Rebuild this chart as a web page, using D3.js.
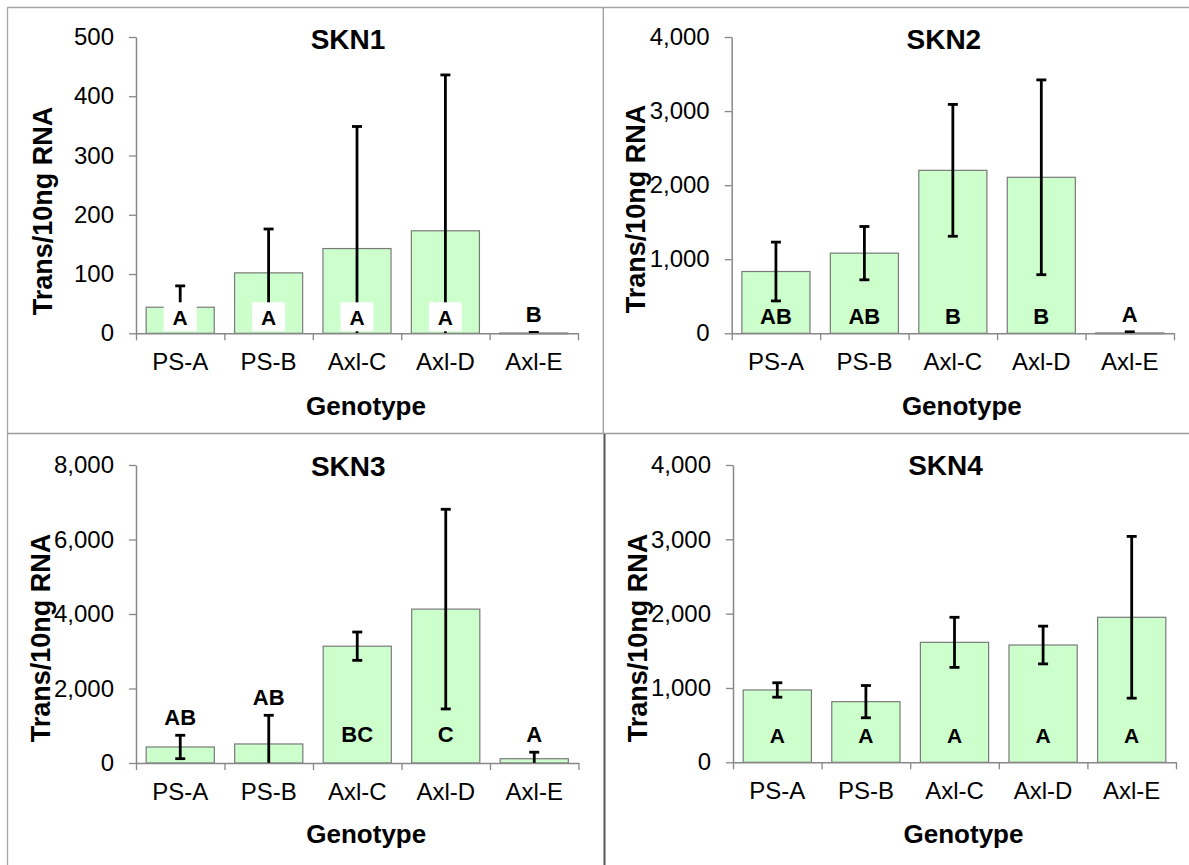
<!DOCTYPE html>
<html>
<head>
<meta charset="utf-8">
<script src="https://cdn.jsdelivr.net/npm/d3@7"></script>
<style>
  html, body { margin: 0; padding: 0; background: #fff; }
  svg text { font-family: "Liberation Sans", Arial, sans-serif; fill: #000; }
</style>
</head>
<body>
<svg id="chart" width="1189" height="865"></svg>
<script>
// genotypes on the x axis, shared by the four panels
const genotypes = ['PS-A', 'PS-B', 'Axl-C', 'Axl-D', 'Axl-E'];

// SKN1
const skn1Means = [44, 102, 143, 173, 0.5];
const skn1Errors = [36, 74, 206, 263, 1];
const skn1Letters = ['A', 'A', 'A', 'A', 'B'];
const skn1Ticks = [0, 100, 200, 300, 400, 500];

// SKN2
const skn2Means = [834, 1082, 2200, 2106, 5];
const skn2Errors = [397, 360, 890, 1315, 15];
const skn2Letters = ['AB', 'AB', 'B', 'B', 'A'];
const skn2Ticks = [0, 1000, 2000, 3000, 4000];

// SKN3
const skn3Means = [430, 511, 3136, 4131, 115];
const skn3Errors = [314, 770, 380, 2680, 175];
const skn3Letters = ['AB', 'AB', 'BC', 'C', 'A'];
const skn3Ticks = [0, 2000, 4000, 6000, 8000];

// SKN4
const skn4Means = [973, 816, 1614, 1578, 1951];
const skn4Errors = [97, 217, 337, 254, 1088];
const skn4Letters = ['A', 'A', 'A', 'A', 'A'];
const skn4Ticks = [0, 1000, 2000, 3000, 4000];

const titles = ['SKN1', 'SKN2', 'SKN3', 'SKN4'];
const yLabel = 'Trans/10ng RNA';
const xLabel = 'Genotype';

const svg = d3.select('#chart');

// panel frames
const frame = svg.append('g').attr('fill', 'none');
frame.append('line').attr('x1', 7).attr('y1', 7.5).attr('x2', 1189).attr('y2', 7.5)
    .attr('stroke', '#a6a6a6').attr('stroke-width', 1.3);
frame.append('line').attr('x1', 7.5).attr('y1', 7).attr('x2', 7.5).attr('y2', 865)
    .attr('stroke', '#a6a6a6').attr('stroke-width', 1.3);
frame.append('line').attr('x1', 7).attr('y1', 433.5).attr('x2', 1189).attr('y2', 433.5)
    .attr('stroke', '#9a9a9a').attr('stroke-width', 1.5);
frame.append('line').attr('x1', 603.3).attr('y1', 7).attr('x2', 603.3).attr('y2', 434)
    .attr('stroke', '#9a9a9a').attr('stroke-width', 1.3);
frame.append('line').attr('x1', 604.5).attr('y1', 434).attr('x2', 604.5).attr('y2', 865)
    .attr('stroke', '#555').attr('stroke-width', 2);

const panels = [
    { means: skn1Means, errors: skn1Errors, letters: skn1Letters, ticks: skn1Ticks,
      x0: 136, x1: 578, yTop: 37, yZero: 333.3, titleY: 49, tickY: 370, genoY: 415,
      labelX: 52, labelY: 211, inset: 8, boxed: true, letterFont: 'arial' },
    { means: skn2Means, errors: skn2Errors, letters: skn2Letters, ticks: skn2Ticks,
      x0: 731.7, x1: 1174, yTop: 37, yZero: 333.3, titleY: 49, tickY: 370, genoY: 415,
      labelX: 645, labelY: 209, inset: 9, boxed: false, letterFont: 'lato' },
    { means: skn3Means, errors: skn3Errors, letters: skn3Letters, ticks: skn3Ticks,
      x0: 136, x1: 578.5, yTop: 465, yZero: 763, titleY: 476, tickY: 800, genoY: 843,
      labelX: 50, labelY: 638, inset: 21, boxed: false, letterFont: 'lato' },
    { means: skn4Means, errors: skn4Errors, letters: skn4Letters, ticks: skn4Ticks,
      x0: 733, x1: 1176, yTop: 465, yZero: 762.3, titleY: 475, tickY: 799, genoY: 843,
      labelX: 647, labelY: 638, inset: 19, boxed: false, letterFont: 'arial' }
];

const axisColor = '#878787';

panels.forEach(function(p, i) {
    const g = svg.append('g');

    const x = d3.scaleBand()
        .domain(genotypes)
        .range([p.x0, p.x1])
        .paddingInner(0.23)
        .paddingOuter(0.115);

    const xEdge = d3.scaleLinear()
        .domain([0, genotypes.length])
        .range([p.x0, p.x1]);

    const y = d3.scaleLinear()
        .domain([0, d3.max(p.ticks)])
        .range([p.yZero, p.yTop]);

    // bars
    g.selectAll('rect.bar')
        .data(p.means)
        .enter()
        .append('rect')
            .attr('class', 'bar')
            .attr('x', (d, j) => x(genotypes[j]))
            .attr('width', x.bandwidth())
            .attr('y', d => y(d))
            .attr('height', d => Math.max(0.8, y(0) - y(d)))
            .attr('fill', '#ccffcc')
            .attr('stroke', '#7a7a7a')
            .attr('stroke-width', 1.2);

    // error bars
    const cap = 5;
    p.means.forEach(function(m, j) {
        const cx = x(genotypes[j]) + x.bandwidth() / 2;
        const hi = m + p.errors[j];
        const lo = Math.max(0, m - p.errors[j]);
        const eb = g.append('g').attr('stroke', '#000').attr('stroke-width', 2.8);
        eb.append('line').attr('x1', cx).attr('x2', cx).attr('y1', y(hi)).attr('y2', y(lo));
        eb.append('line').attr('x1', cx - cap).attr('x2', cx + cap).attr('y1', y(hi)).attr('y2', y(hi));
        if (m - p.errors[j] > 0) {
            eb.append('line').attr('x1', cx - cap).attr('x2', cx + cap).attr('y1', y(lo)).attr('y2', y(lo));
        }
    });

    // y axis
    const yAxis = g.append('g')
        .attr('transform', 'translate(' + p.x0 + ',0)')
        .call(d3.axisLeft(y)
            .tickValues(p.ticks)
            .tickSizeInner(7)
            .tickSizeOuter(0)
            .tickPadding(15)
            .tickFormat(d3.format(',')));
    yAxis.select('.domain').attr('stroke', axisColor).attr('stroke-width', 1.5);
    yAxis.selectAll('.tick line').attr('stroke', axisColor).attr('stroke-width', 1.3);
    yAxis.selectAll('.tick text')
        .attr('font-size', 24)
        .attr('font-family', '"Liberation Sans", Arial, sans-serif')
        .attr('fill', '#000');

    // x axis line with ticks at category boundaries
    const xAxis = g.append('g')
        .attr('transform', 'translate(0,' + p.yZero + ')')
        .call(d3.axisBottom(xEdge)
            .tickValues(d3.range(genotypes.length + 1))
            .tickSizeInner(7)
            .tickSizeOuter(0)
            .tickFormat(''));
    xAxis.select('.domain').attr('stroke', axisColor).attr('stroke-width', 1.5);
    xAxis.selectAll('.tick line').attr('stroke', axisColor).attr('stroke-width', 1.3);

    // category labels
    g.selectAll('text.cat')
        .data(genotypes)
        .enter()
        .append('text')
            .attr('class', 'cat')
            .attr('x', d => x(d) + x.bandwidth() / 2)
            .attr('y', p.tickY)
            .attr('text-anchor', 'middle')
            .attr('font-size', 24)
            .text(d => d);

    // significance letters
    p.letters.forEach(function(letter, j) {
        const cx = x(genotypes[j]) + x.bandwidth() / 2;
        const barPx = y(0) - y(p.means[j]);
        const inside = barPx >= 24;
        const by = inside ? p.yZero - p.inset : y(p.means[j] + p.errors[j]) - 10;
        if (inside && p.boxed) {
            g.append('rect')
                .attr('x', cx - 16.5).attr('y', by - 23)
                .attr('width', 33).attr('height', 29)
                .attr('fill', '#fff');
        }
        const t = g.append('text')
            .attr('x', cx)
            .attr('y', by)
            .attr('text-anchor', 'middle')
            .attr('font-weight', 'bold')
            .text(letter);
        const useLato = p.letterFont === 'lato' || (p.boxed && !inside);
        if (useLato) {
            t.attr('font-family', 'Lato, "Open Sans", sans-serif').attr('font-size', 22);
        } else {
            t.attr('font-size', 21);
        }
    });

    // title
    const mid = (p.x0 + p.x1) / 2;
    g.append('text')
        .attr('x', mid - 9)
        .attr('y', p.titleY)
        .attr('text-anchor', 'middle')
        .attr('font-size', 28)
        .attr('font-weight', 'bold')
        .text(titles[i]);

    // axis titles
    g.append('text')
        .attr('x', mid + 9)
        .attr('y', p.genoY)
        .attr('text-anchor', 'middle')
        .attr('font-size', 26)
        .attr('font-weight', 'bold')
        .text(xLabel);

    g.append('text')
        .attr('transform', 'translate(' + p.labelX + ',' + p.labelY + ') rotate(-90)')
        .attr('text-anchor', 'middle')
        .attr('font-size', 27)
        .attr('font-weight', 'bold')
        .text(yLabel);
});
</script>
</body>
</html>
